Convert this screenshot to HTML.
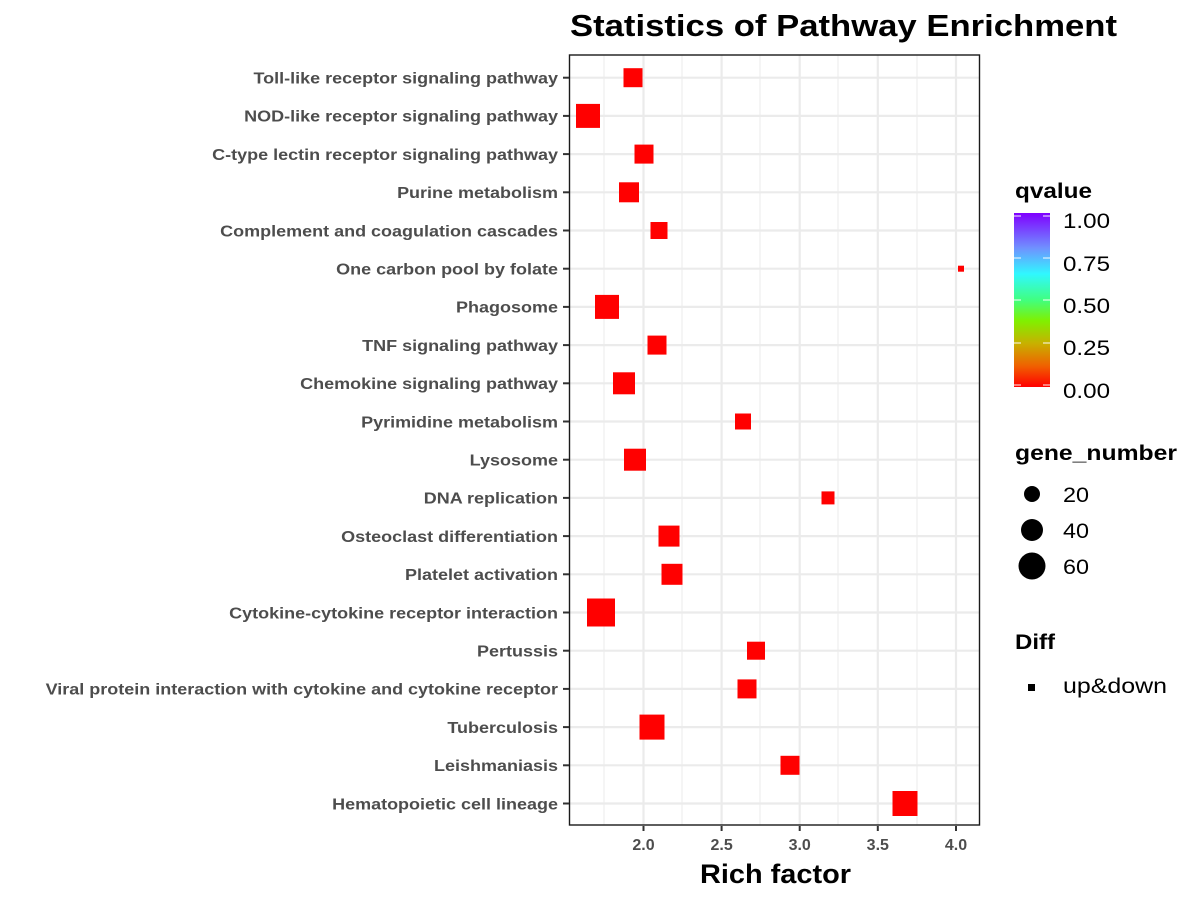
<!DOCTYPE html><html><head><style>body{margin:0;background:#fff}svg text{font-family:"Liberation Sans",sans-serif}</style></head><body>
<svg width="1200" height="900" xmlns="http://www.w3.org/2000/svg">
<defs><linearGradient id="g" x1="0" y1="1" x2="0" y2="0">
<stop offset="0" stop-color="#ff0000"/><stop offset="0.12" stop-color="#f06000"/><stop offset="0.25" stop-color="#c8b000"/><stop offset="0.38" stop-color="#80f000"/><stop offset="0.5" stop-color="#40ff80"/><stop offset="0.65" stop-color="#30f8ff"/><stop offset="0.8" stop-color="#7090ff"/><stop offset="1" stop-color="#8000ff"/></linearGradient></defs>
<text x="570" y="36" font-size="31" font-weight="bold" textLength="547" lengthAdjust="spacingAndGlyphs">Statistics of Pathway Enrichment</text>
<g stroke="#ebebeb">
<g stroke-width="1"><line x1="604" y1="55" x2="604" y2="825"/><line x1="682" y1="55" x2="682" y2="825"/><line x1="760" y1="55" x2="760" y2="825"/><line x1="838" y1="55" x2="838" y2="825"/><line x1="917" y1="55" x2="917" y2="825"/></g>
<g stroke-width="2.2"><line x1="643.5" y1="55" x2="643.5" y2="825"/><line x1="721.6" y1="55" x2="721.6" y2="825"/><line x1="799.7" y1="55" x2="799.7" y2="825"/><line x1="877.8" y1="55" x2="877.8" y2="825"/><line x1="956" y1="55" x2="956" y2="825"/></g>
</g>
<g stroke="#ebebeb" stroke-width="2.2">
<line x1="570" x2="979" y1="77.7" y2="77.7"/><line x1="570" x2="979" y1="115.9" y2="115.9"/><line x1="570" x2="979" y1="154.1" y2="154.1"/><line x1="570" x2="979" y1="192.3" y2="192.3"/><line x1="570" x2="979" y1="230.5" y2="230.5"/><line x1="570" x2="979" y1="268.7" y2="268.7"/><line x1="570" x2="979" y1="306.9" y2="306.9"/><line x1="570" x2="979" y1="345.1" y2="345.1"/><line x1="570" x2="979" y1="383.3" y2="383.3"/><line x1="570" x2="979" y1="421.5" y2="421.5"/><line x1="570" x2="979" y1="459.7" y2="459.7"/><line x1="570" x2="979" y1="497.9" y2="497.9"/><line x1="570" x2="979" y1="536.1" y2="536.1"/><line x1="570" x2="979" y1="574.3" y2="574.3"/><line x1="570" x2="979" y1="612.5" y2="612.5"/><line x1="570" x2="979" y1="650.7" y2="650.7"/><line x1="570" x2="979" y1="688.9" y2="688.9"/><line x1="570" x2="979" y1="727.1" y2="727.1"/><line x1="570" x2="979" y1="765.3" y2="765.3"/><line x1="570" x2="979" y1="803.5" y2="803.5"/>
</g>
<g fill="#ff0000">
<rect x="623.5" y="68.2" width="19" height="19"/>
<rect x="576" y="103.9" width="24" height="24"/>
<rect x="634.5" y="144.6" width="19" height="19"/>
<rect x="619" y="182.3" width="20" height="20"/>
<rect x="650.5" y="222" width="17" height="17"/>
<rect x="958" y="265.7" width="6" height="6"/>
<rect x="595" y="294.9" width="24" height="24"/>
<rect x="647.5" y="335.6" width="19" height="19"/>
<rect x="613" y="372.3" width="22" height="22"/>
<rect x="735" y="413.5" width="16" height="16"/>
<rect x="624" y="448.7" width="22" height="22"/>
<rect x="821.5" y="491.4" width="13" height="13"/>
<rect x="658.5" y="525.6" width="21" height="21"/>
<rect x="661.5" y="563.8" width="21" height="21"/>
<rect x="587" y="598.5" width="28" height="28"/>
<rect x="747" y="641.7" width="18" height="18"/>
<rect x="737.5" y="679.4" width="19" height="19"/>
<rect x="639.5" y="714.6" width="25" height="25"/>
<rect x="780.5" y="755.8" width="19" height="19"/>
<rect x="892.5" y="791" width="25" height="25"/>
</g>
<rect x="569.5" y="55" width="410" height="770" fill="none" stroke="#1a1a1a" stroke-width="1.4"/>
<g stroke="#333" stroke-width="2">
<line x1="563" x2="569" y1="77.7" y2="77.7"/><line x1="563" x2="569" y1="115.9" y2="115.9"/><line x1="563" x2="569" y1="154.1" y2="154.1"/><line x1="563" x2="569" y1="192.3" y2="192.3"/><line x1="563" x2="569" y1="230.5" y2="230.5"/><line x1="563" x2="569" y1="268.7" y2="268.7"/><line x1="563" x2="569" y1="306.9" y2="306.9"/><line x1="563" x2="569" y1="345.1" y2="345.1"/><line x1="563" x2="569" y1="383.3" y2="383.3"/><line x1="563" x2="569" y1="421.5" y2="421.5"/><line x1="563" x2="569" y1="459.7" y2="459.7"/><line x1="563" x2="569" y1="497.9" y2="497.9"/><line x1="563" x2="569" y1="536.1" y2="536.1"/><line x1="563" x2="569" y1="574.3" y2="574.3"/><line x1="563" x2="569" y1="612.5" y2="612.5"/><line x1="563" x2="569" y1="650.7" y2="650.7"/><line x1="563" x2="569" y1="688.9" y2="688.9"/><line x1="563" x2="569" y1="727.1" y2="727.1"/><line x1="563" x2="569" y1="765.3" y2="765.3"/><line x1="563" x2="569" y1="803.5" y2="803.5"/>
<line x1="643.5" x2="643.5" y1="826" y2="831"/><line x1="721.6" x2="721.6" y1="826" y2="831"/><line x1="799.7" x2="799.7" y1="826" y2="831"/><line x1="877.8" x2="877.8" y1="826" y2="831"/><line x1="956" x2="956" y1="826" y2="831"/>
</g>
<g transform="translate(558,0) scale(1.125,1) translate(-558,0)" font-size="16" font-weight="bold" fill="#4d4d4d" text-anchor="end">
<text x="558" y="83.5">Toll-like receptor signaling pathway</text>
<text x="558" y="121.7">NOD-like receptor signaling pathway</text>
<text x="558" y="159.9">C-type lectin receptor signaling pathway</text>
<text x="558" y="198.1">Purine metabolism</text>
<text x="558" y="236.3">Complement and coagulation cascades</text>
<text x="558" y="274.5">One carbon pool by folate</text>
<text x="558" y="312.7">Phagosome</text>
<text x="558" y="350.9">TNF signaling pathway</text>
<text x="558" y="389.1">Chemokine signaling pathway</text>
<text x="558" y="427.3">Pyrimidine metabolism</text>
<text x="558" y="465.5">Lysosome</text>
<text x="558" y="503.7">DNA replication</text>
<text x="558" y="541.9">Osteoclast differentiation</text>
<text x="558" y="580.1">Platelet activation</text>
<text x="558" y="618.3">Cytokine-cytokine receptor interaction</text>
<text x="558" y="656.5">Pertussis</text>
<text x="558" y="694.7">Viral protein interaction with cytokine and cytokine receptor</text>
<text x="558" y="732.9">Tuberculosis</text>
<text x="558" y="771.1">Leishmaniasis</text>
<text x="558" y="809.3">Hematopoietic cell lineage</text>
</g>
<g font-size="16" font-weight="bold" fill="#4d4d4d" text-anchor="middle">
<text x="643.5" y="850">2.0</text><text x="721.6" y="850">2.5</text><text x="799.7" y="850">3.0</text><text x="877.8" y="850">3.5</text><text x="956" y="850">4.0</text>
</g>
<text x="700" y="883" font-size="27" font-weight="bold" textLength="151" lengthAdjust="spacingAndGlyphs">Rich factor</text>
<text x="1015" y="198" font-size="21" font-weight="bold" textLength="77" lengthAdjust="spacingAndGlyphs">qvalue</text>
<rect x="1014" y="213" width="36" height="174" fill="url(#g)"/>
<g stroke="#fff" stroke-width="1.2" opacity="0.8">
<line x1="1014" x2="1021" y1="385" y2="385"/><line x1="1043" x2="1050" y1="385" y2="385"/>
<line x1="1014" x2="1021" y1="343" y2="343"/><line x1="1043" x2="1050" y1="343" y2="343"/>
<line x1="1014" x2="1021" y1="300" y2="300"/><line x1="1043" x2="1050" y1="300" y2="300"/>
<line x1="1014" x2="1021" y1="258" y2="258"/><line x1="1043" x2="1050" y1="258" y2="258"/>
<line x1="1014" x2="1021" y1="216" y2="216"/><line x1="1043" x2="1050" y1="216" y2="216"/>
</g>
<g font-size="21" fill="#000">
<text x="1063" y="228" textLength="47" lengthAdjust="spacingAndGlyphs">1.00</text><text x="1063" y="271" textLength="47" lengthAdjust="spacingAndGlyphs">0.75</text><text x="1063" y="313" textLength="47" lengthAdjust="spacingAndGlyphs">0.50</text><text x="1063" y="355" textLength="47" lengthAdjust="spacingAndGlyphs">0.25</text><text x="1063" y="398" textLength="47" lengthAdjust="spacingAndGlyphs">0.00</text>
<text x="1063" y="502" textLength="26" lengthAdjust="spacingAndGlyphs">20</text><text x="1063" y="538" textLength="26" lengthAdjust="spacingAndGlyphs">40</text><text x="1063" y="574" textLength="26" lengthAdjust="spacingAndGlyphs">60</text>
<text x="1063" y="693" textLength="104" lengthAdjust="spacingAndGlyphs">up&amp;down</text>
</g>
<text x="1015" y="460" font-size="21" font-weight="bold" textLength="162" lengthAdjust="spacingAndGlyphs">gene_number</text>
<circle cx="1032" cy="494" r="8"/><circle cx="1032" cy="530" r="11"/><circle cx="1032" cy="566" r="13.5"/>
<text x="1015" y="649" font-size="21" font-weight="bold" textLength="40" lengthAdjust="spacingAndGlyphs">Diff</text>
<rect x="1028" y="684" width="7" height="7"/>
</svg></body></html>
